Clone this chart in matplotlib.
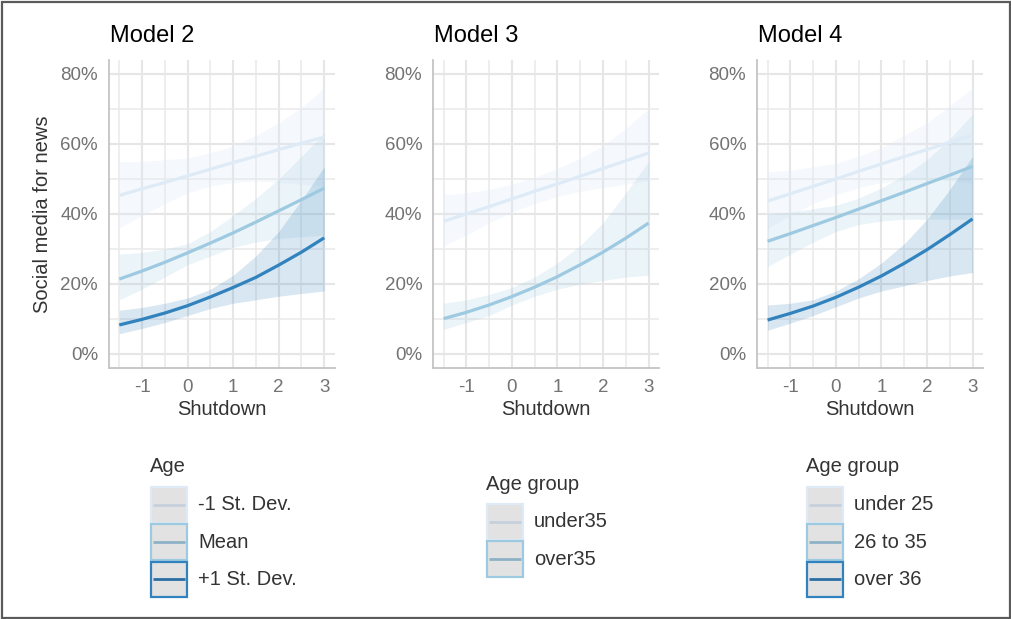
import matplotlib
matplotlib.use('Agg')
import matplotlib.pyplot as plt
from matplotlib.patches import Rectangle
from matplotlib.ticker import FixedLocator, PercentFormatter

plt.rcParams['font.family'] = ['Liberation Sans', 'DejaVu Sans']
plt.rcParams['axes.unicode_minus'] = False

# ---------------- data ----------------
shutdown = [-1.5, -1.0, -0.5, 0.0, 0.5, 1.0, 1.5, 2.0, 2.5, 3.0]

# Model 2 (Age: -1 SD, Mean, +1 SD)
m2_sdm_fit = [0.453, 0.472, 0.490, 0.509, 0.528, 0.547, 0.565, 0.584, 0.602, 0.620]
m2_sdm_lo  = [0.360, 0.395, 0.430, 0.460, 0.480, 0.490, 0.495, 0.490, 0.485, 0.480]
m2_sdm_hi  = [0.550, 0.550, 0.555, 0.560, 0.575, 0.595, 0.625, 0.660, 0.705, 0.760]
m2_mean_fit = [0.214, 0.237, 0.262, 0.289, 0.317, 0.346, 0.377, 0.409, 0.441, 0.474]
m2_mean_lo  = [0.155, 0.185, 0.220, 0.255, 0.280, 0.305, 0.320, 0.330, 0.335, 0.340]
m2_mean_hi  = [0.285, 0.290, 0.300, 0.315, 0.350, 0.395, 0.445, 0.500, 0.565, 0.630]
m2_sdp_fit = [0.083, 0.099, 0.117, 0.138, 0.163, 0.190, 0.219, 0.254, 0.291, 0.332]
m2_sdp_lo  = [0.058, 0.073, 0.090, 0.110, 0.130, 0.145, 0.155, 0.165, 0.173, 0.180]
m2_sdp_hi  = [0.125, 0.133, 0.145, 0.160, 0.185, 0.225, 0.280, 0.350, 0.440, 0.535]

# Model 3 (Age group: under35, over35)
m3_u35_fit = [0.379, 0.400, 0.421, 0.443, 0.465, 0.486, 0.508, 0.530, 0.552, 0.574]
m3_u35_lo  = [0.310, 0.340, 0.375, 0.405, 0.430, 0.450, 0.465, 0.475, 0.485, 0.495]
m3_u35_hi  = [0.455, 0.460, 0.470, 0.485, 0.505, 0.530, 0.560, 0.595, 0.645, 0.700]
m3_o35_fit = [0.101, 0.119, 0.140, 0.164, 0.191, 0.221, 0.255, 0.291, 0.331, 0.374]
m3_o35_lo  = [0.070, 0.090, 0.110, 0.140, 0.165, 0.185, 0.200, 0.210, 0.220, 0.225]
m3_o35_hi  = [0.145, 0.155, 0.170, 0.190, 0.220, 0.260, 0.310, 0.375, 0.460, 0.550]

# Model 4 (Age group: under 25, 26 to 35, over 36)
m4_u25_fit = [0.437, 0.458, 0.479, 0.500, 0.522, 0.543, 0.564, 0.584, 0.605, 0.625]
m4_u25_lo  = [0.360, 0.395, 0.430, 0.455, 0.475, 0.490, 0.495, 0.500, 0.495, 0.490]
m4_u25_hi  = [0.520, 0.525, 0.535, 0.545, 0.565, 0.590, 0.625, 0.660, 0.710, 0.760]
m4_2635_fit = [0.322, 0.344, 0.367, 0.390, 0.414, 0.438, 0.462, 0.487, 0.511, 0.536]
m4_2635_lo  = [0.250, 0.285, 0.320, 0.350, 0.370, 0.380, 0.385, 0.385, 0.385, 0.385]
m4_2635_hi  = [0.400, 0.405, 0.415, 0.425, 0.445, 0.475, 0.510, 0.555, 0.615, 0.685]
m4_o36_fit = [0.097, 0.116, 0.137, 0.162, 0.191, 0.223, 0.259, 0.298, 0.341, 0.386]
m4_o36_lo  = [0.068, 0.088, 0.110, 0.135, 0.160, 0.180, 0.195, 0.210, 0.223, 0.233]
m4_o36_hi  = [0.140, 0.145, 0.155, 0.180, 0.215, 0.260, 0.315, 0.385, 0.470, 0.565]

titles = ["Model 2", "Model 3", "Model 4"]
legend_titles = ["Age", "Age group", "Age group"]
labels_m2 = ["-1 St. Dev.", "Mean", "+1 St. Dev."]
labels_m3 = ["under35", "over35"]
labels_m4 = ["under 25", "26 to 35", "over 36"]
x_ticks = [-1, 0, 1, 2, 3]
y_ticks = [0.0, 0.2, 0.4, 0.6, 0.8]

# ---------------- style ----------------
blues = ['#DEEBF7', '#9ECAE1', '#3182BD']
key_line_cols = ['#c6d0dc', '#8db2c8', '#2b6ea6']
ribbon_alpha = [0.3, 0.2, 0.19]
W, H = 1011, 619

models = [
    [(m2_sdm_fit, m2_sdm_lo, m2_sdm_hi), (m2_mean_fit, m2_mean_lo, m2_mean_hi), (m2_sdp_fit, m2_sdp_lo, m2_sdp_hi)],
    [(m3_u35_fit, m3_u35_lo, m3_u35_hi), (m3_o35_fit, m3_o35_lo, m3_o35_hi)],
    [(m4_u25_fit, m4_u25_lo, m4_u25_hi), (m4_2635_fit, m4_2635_lo, m4_2635_hi), (m4_o36_fit, m4_o36_lo, m4_o36_hi)],
]
labels_all = [labels_m2, labels_m3, labels_m4]

fig = plt.figure(figsize=(W / 100, H / 100), dpi=100)
fig.patch.set_facecolor('white')

panel_left = [109, 433.3, 757.3]
panel_w = 225.5
panel_top, panel_bot = 60, 368

for i, series in enumerate(models):
    ax = fig.add_axes([panel_left[i] / W, (H - panel_bot) / H, panel_w / W, (panel_bot - panel_top) / H])
    ax.set_xlim(-1.725, 3.225)
    ax.set_ylim(-0.04, 0.84)
    ax.xaxis.set_major_locator(FixedLocator(x_ticks))
    ax.xaxis.set_minor_locator(FixedLocator([-1.5, -0.5, 0.5, 1.5, 2.5]))
    ax.yaxis.set_major_locator(FixedLocator(y_ticks))
    ax.yaxis.set_minor_locator(FixedLocator([0.1, 0.3, 0.5, 0.7]))
    ax.yaxis.set_major_formatter(PercentFormatter(1.0, decimals=0))
    ax.grid(True, which='major', color='#e6e6e6', lw=1.5, zorder=0)
    ax.grid(True, which='minor', color='#e9e9e9', lw=1.1, zorder=0)
    ax.set_axisbelow(True)
    for s in ['top', 'right']:
        ax.spines[s].set_visible(False)
    for s in ['left', 'bottom']:
        ax.spines[s].set_color('#c4c4c4')
        ax.spines[s].set_linewidth(1.3)
    ax.tick_params(which='both', length=0)
    ax.tick_params(axis='both', labelsize=13.5, labelcolor='#737373')
    ax.tick_params(axis='x', pad=8)
    ax.tick_params(axis='y', pad=8)
    ax.set_xlabel("Shutdown", fontsize=14.5, color='#333333', labelpad=3)
    if i == 0:
        ax.set_ylabel("Social media for news", fontsize=14.5, color='#333333', labelpad=6)
    for j, (fit, lo, hi) in enumerate(series):
        ax.fill_between(shutdown, lo, hi, color=blues[j], alpha=ribbon_alpha[j], lw=0, zorder=1)
    for j, (fit, lo, hi) in enumerate(series):
        ax.plot(shutdown, fit, color=blues[j], lw=2.3, zorder=2, solid_capstyle='butt')

# overlay in pixel coordinates for titles, legends and frame
ov = fig.add_axes([0, 0, 1, 1], facecolor='none')
ov.set_xlim(0, W)
ov.set_ylim(H, 0)
ov.axis('off')
ov.add_patch(Rectangle((1.5, 1.5), W - 3, H - 3, fill=False, ec='#5a5a5a', lw=1.6))

title_x = [110, 434, 758]
for i, t in enumerate(titles):
    ov.text(title_x[i], 41.5, t, fontsize=17, color='black', va='baseline', ha='left')

# legends
leg_x = [151, 487, 807]
leg_top = [487, 504, 487]
key_w, key_h, key_gap = 36, 35.5, 1.8
for i, labs in enumerate(labels_all):
    x0 = leg_x[i]
    ov.text(x0 - 1, leg_top[i] - 20, legend_titles[i], fontsize=14.5, color='#333333',
            va='center', ha='left')
    for j, lab in enumerate(labs):
        y0 = leg_top[i] + j * (key_h + key_gap)
        ov.add_patch(Rectangle((x0, y0), key_w, key_h, fc='#e2e2e2', ec=blues[j], lw=1.6))
        ov.plot([x0 + 2, x0 + key_w - 2], [y0 + key_h / 2, y0 + key_h / 2],
                color=key_line_cols[j], lw=2.0, solid_capstyle='butt')
        ov.text(x0 + key_w + 11, y0 + key_h / 2, lab, fontsize=14.5, color='#333333',
                va='center', ha='left')

fig.savefig('out.png', dpi=100, facecolor='white')
